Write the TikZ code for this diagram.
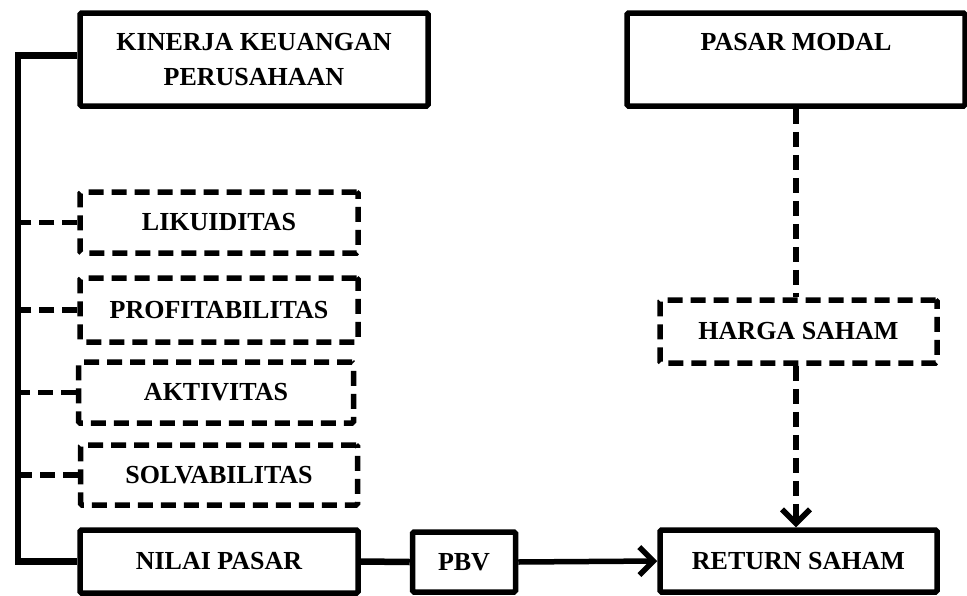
\documentclass[tikz,border=0pt]{standalone}
\usepackage{fontspec}
\setmainfont{Liberation Serif}
\usetikzlibrary{arrows.meta}
\begin{document}
\begin{tikzpicture}[x=1pt,y=1pt,
  every node/.style={font=\fontsize{26}{35}\selectfont\bfseries, inner sep=0pt},
  solidbox/.style={draw, line width=5.5pt, rounded corners=1.5pt, align=center},
  dashbox/.style={draw, line width=5.5pt, rounded corners=1.5pt, dash pattern=on 15pt off 8pt, align=center},
  trunk/.style={line width=6.5pt, line join=miter},
  dashline/.style={line width=5.5pt, dash pattern=on 15pt off 8pt},
  arr/.style={-{Straight Barb[length=14pt,width=28pt,line width=5.5pt]}}]
\useasboundingbox (0,0) rectangle (967,-595);
\node[solidbox, minimum width=348, minimum height=93] (kin) at (254,-59.5) {KINERJA KEUANGAN\\PERUSAHAAN};
\node[solidbox, minimum width=338, minimum height=93] (pm) at (796,-59.5) {PASAR MODAL\\~};
\node[dashbox, minimum width=278, minimum height=61] (lik) at (219,-222.5) {LIKUIDITAS};
\node[dashbox, minimum width=278, minimum height=64] (prof) at (219,-310) {PROFITABILITAS};
\node[dashbox, minimum width=275, minimum height=61] (akt) at (216,-392.5) {AKTIVITAS};
\node[dashbox, minimum width=277, minimum height=60] (solv) at (219,-475) {SOLVABILITAS};
\node[solidbox, minimum width=278, minimum height=63] (nil) at (219,-561.5) {NILAI PASAR};
\node[solidbox, minimum width=103, minimum height=60] (pbv) at (464,-562) {PBV};
\node[solidbox, minimum width=277, minimum height=62] (ret) at (798.5,-561) {RETURN SAHAM};
\node[dashbox, minimum width=277, minimum height=63] (hs) at (798.5,-331.5) {HARGA SAHAM};
\coordinate (tr) at (18,-300);
\draw[trunk] ([yshift=4pt]kin.west) -| (tr) |- (nil.west);
\foreach \n in {lik,prof,akt,solv}
  \draw[dashline] (\n.west) -- (\n.west -| tr);
\draw[trunk] (nil.east) -- (pbv.west);
\draw[line width=5.5pt, arr] (pbv.east) -- (ret.west);
\draw[dashline] (pm.south) -- (pm.south |- hs.north);
\draw[dashline, arr] (hs.south -| pm.south) -- (ret.north -| pm.south);
\end{tikzpicture}
\end{document}
